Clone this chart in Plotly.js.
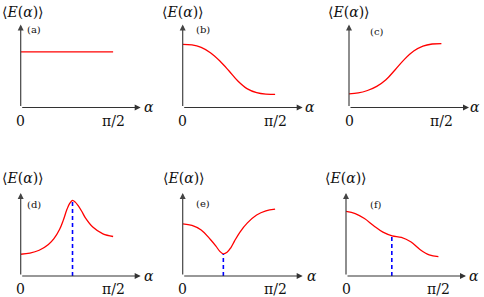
<!DOCTYPE html>
<html><head><meta charset="utf-8">
<script src="https://cdn.plot.ly/plotly-3.0.1.min.js"></script>
<style>html,body{margin:0;padding:0;background:#fff}#p{width:484px;height:297px}</style>
</head><body><div id="p"></div>
<script>
// ---- data (x in radians, y in arbitrary units; axis arrow top = 1) ----
const panelLabels = ['(a)','(b)','(c)','(d)','(e)','(f)'];
const yAxisLabel = '⟨<i>E</i>(<i>α</i>)⟩';
const xAxisLabel = '<i>α</i>';
const xTickLabels = ['0','π/2'];
const xTickValues = [0, 1.5708];

const xA = [0, 1.571];
const yA = [0.669, 0.669];

const xB = [0, 0.157, 0.314, 0.471, 0.628, 0.785, 0.942, 1.100, 1.257, 1.414, 1.571];
const yB = [0.761, 0.755, 0.724, 0.66, 0.563, 0.443, 0.316, 0.224, 0.178, 0.16, 0.159];

const xC = [0, 0.157, 0.314, 0.471, 0.628, 0.785, 0.942, 1.100, 1.257, 1.414, 1.571];
const yC = [0.165, 0.175, 0.205, 0.255, 0.335, 0.455, 0.58, 0.68, 0.74, 0.765, 0.77];

const xD = [0, 0.157, 0.314, 0.471, 0.565, 0.660, 0.723, 0.785, 0.833, 0.881, 0.927, 0.974, 1.037, 1.100, 1.225, 1.398, 1.571];
const yD = [0.262, 0.275, 0.31, 0.38, 0.45, 0.56, 0.67, 0.8, 0.875, 0.911, 0.89, 0.85, 0.78, 0.70, 0.59, 0.508, 0.476];

const xE = [0, 0.157, 0.314, 0.471, 0.565, 0.628, 0.691, 0.754, 0.817, 0.880, 0.974, 1.100, 1.257, 1.414, 1.571];
const yE = [0.629, 0.61, 0.555, 0.44, 0.36, 0.30, 0.266, 0.285, 0.34, 0.42, 0.53, 0.64, 0.735, 0.785, 0.806];

const xF = [0, 0.157, 0.314, 0.471, 0.628, 0.785, 0.942, 1.100, 1.257, 1.414, 1.571];
const yF = [0.778, 0.752, 0.692, 0.605, 0.528, 0.484, 0.465, 0.412, 0.32, 0.255, 0.234];

// dashed markers (position of extremum / plateau)
const markD = {x: 0.881, y: 0.911};
const markE = {x: 0.691, y: 0.266};
const markF = {x: 0.779, y: 0.484};

// ---- layout geometry (pixels) ----
const W = 484, H = 297;
const XMAX = 2.04;
const axW = 120;
const panels = [
  {ox: 20.7, oy: 107.5, xs: xA, ys: yA, lab: [0, 12], pl: [34, 30], alpha: [149, 107]},
  {ox: 182.7, oy: 107.5, xs: xB, ys: yB, lab: [160, 12], pl: [203, 30], alpha: [310, 107]},
  {ox: 349, oy: 107.5, xs: xC, ys: yC, lab: [326, 12], pl: [377, 32], alpha: [475, 107]},
  {ox: 20.7, oy: 276, xs: xD, ys: yD, lab: [0, 178], pl: [34, 204], alpha: [149, 276], mark: markD},
  {ox: 182.7, oy: 276, xs: xE, ys: yE, lab: [161, 178], pl: [203, 203], alpha: [312, 276], mark: markE},
  {ox: 346, oy: 276, xs: xF, ys: yF, lab: [323, 178], pl: [376, 204], alpha: [474, 276], mark: markF}
];
const axH = 83;
const px = x => x / W, py = y => 1 - y / H;
const SERIF = 'DejaVu Serif';
const tfont = {family: SERIF, size: 14, color: '#111'};

const data = [], annotations = [];
const layout = {width: W, height: H, margin: {l:0, r:0, t:0, b:0}, showlegend: false,
  font: {family: SERIF},
  paper_bgcolor: '#fff', plot_bgcolor: 'rgba(0,0,0,0)', annotations};

panels.forEach((p, i) => {
  const k = i === 0 ? '' : String(i + 1);
  const xa = 'x' + k, ya = 'y' + k;
  layout['xaxis' + k] = {domain: [px(p.ox), px(p.ox + axW)], range: [0, XMAX], anchor: ya,
    showgrid: false, zeroline: false, showline: false, showticklabels: false, ticks: ''};
  layout['yaxis' + k] = {domain: [py(p.oy), py(p.oy - axH)], range: [0, 1], anchor: xa,
    showgrid: false, zeroline: false, showline: false, showticklabels: false, ticks: ''};
  data.push({x: p.xs, y: p.ys, xaxis: xa, yaxis: ya, mode: 'lines', type: 'scatter',
    line: {color: '#ff0000', width: 1.3, shape: 'spline', smoothing: 1}, hoverinfo: 'skip'});
  if (p.mark) {
    data.push({x: [p.mark.x, p.mark.x], y: [0, p.mark.y], xaxis: xa, yaxis: ya, mode: 'lines',
      type: 'scatter', line: {color: '#0000ff', width: 1.6, dash: '4px,3px'}, hoverinfo: 'skip'});
  }
  // axis arrows
  annotations.push({xref: xa, yref: ya, axref: xa, ayref: ya, x: XMAX, y: 0, ax: 0, ay: 0,
    text: '', showarrow: true, arrowhead: 2, arrowsize: 1, arrowwidth: 1.2, arrowcolor: '#333'});
  annotations.push({xref: xa, yref: ya, axref: xa, ayref: ya, x: 0, y: 1, ax: 0, ay: 0,
    text: '', showarrow: true, arrowhead: 2, arrowsize: 1, arrowwidth: 1.2, arrowcolor: '#444'});
  // texts
  annotations.push({xref: 'paper', yref: 'paper', x: px(p.lab[0]), y: py(p.lab[1]),
    xanchor: 'left', yanchor: 'middle', text: yAxisLabel, showarrow: false, font: tfont});
  annotations.push({xref: 'paper', yref: 'paper', x: px(p.pl[0]), y: py(p.pl[1]),
    xanchor: 'center', yanchor: 'middle', text: panelLabels[i], showarrow: false,
    font: {family: SERIF, size: 10, color: '#111'}});
  annotations.push({xref: 'paper', yref: 'paper', x: px(p.alpha[0]), y: py(p.alpha[1]),
    xanchor: 'center', yanchor: 'middle', text: xAxisLabel, showarrow: false, font: tfont});
  xTickLabels.forEach((t, j) => {
    annotations.push({xref: xa, yref: 'paper', x: xTickValues[j], y: py(p.oy + 13),
      xanchor: 'center', yanchor: 'middle', text: t, showarrow: false, font: tfont});
  });
});

Plotly.newPlot('p', data, layout, {staticPlot: true, displayModeBar: false});
</script></body></html>
